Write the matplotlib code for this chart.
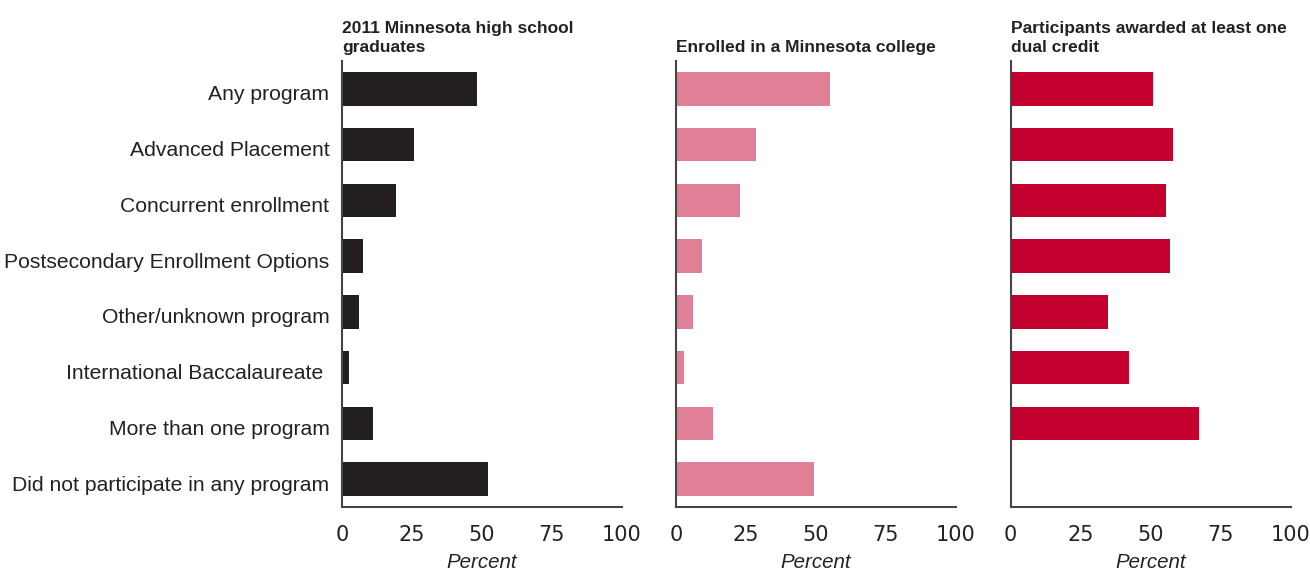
import matplotlib.pyplot as plt
import matplotlib.transforms as mtransforms
import numpy as np

categories = ["Any program", "Advanced Placement", "Concurrent enrollment",
              "Postsecondary Enrollment Options", "Other/unknown program",
              "International Baccalaureate ", "More than one program",
              "Did not participate in any program"]
graduates = [48.2, 25.7, 19.3, 7.5, 6.1, 2.5, 11.1, 52.1]
enrolled = [55.0, 28.6, 22.9, 9.3, 6.1, 2.9, 13.2, 49.3]
awarded = [50.8, 58.0, 55.5, 56.9, 34.8, 42.3, 67.3, np.nan]

titles = ["2011 Minnesota high school\ngraduates",
          "Enrolled in a Minnesota college",
          "Participants awarded at least one\ndual credit"]
colors = ["#231f20", "#e07f96", "#c4002f"]
ticks = [0, 25, 50, 75, 100]

fig = plt.figure(figsize=(13.1, 5.73), dpi=100)
lefts = [342 / 1310, 676 / 1310, 1010.7 / 1310]
w = 280 / 1310
bottom = 1 - 507 / 573
h = (507 - 61) / 573

y = np.arange(len(categories))
for i, (vals, title, col) in enumerate(zip([graduates, enrolled, awarded], titles, colors)):
    ax = fig.add_axes([lefts[i], bottom, w, h])
    ax.barh(y, vals, height=0.6, color=col)
    ax.set_xlim(0, 100)
    ax.set_ylim(len(categories) - 0.5, -0.5)
    ax.set_xticks(ticks)
    ax.set_xticklabels([str(t) for t in ticks], fontsize=15, color="#222222",
                       family="DejaVu Sans")
    ax.tick_params(axis="x", length=0, pad=13)
    ax.set_yticks(y)
    if i == 0:
        ax.set_yticklabels(categories, fontsize=15.2, family="Liberation Sans", color="#222222")
        ax.tick_params(axis="y", length=0, pad=9)
        shift = mtransforms.ScaledTranslation(0, -4 / 100, fig.dpi_scale_trans)
        for lbl in ax.get_yticklabels():
            lbl.set_transform(lbl.get_transform() + shift)
    else:
        ax.set_yticklabels([])
        ax.tick_params(axis="y", length=0)
    for s in ["top", "right"]:
        ax.spines[s].set_visible(False)
    for s in ["left", "bottom"]:
        ax.spines[s].set_color("#444444")
        ax.spines[s].set_linewidth(1.5)
    ax.set_xlabel("Percent", fontsize=14.8, style="italic", family="Liberation Sans",
                  color="#222222", labelpad=6)
    fig.text(lefts[i], 1 - 55 / 573, title, fontsize=12.5, fontweight="bold",
             family="Liberation Sans", va="bottom", ha="left",
             linespacing=1.3, color="#222222")

fig.savefig("out.png", dpi=100)
